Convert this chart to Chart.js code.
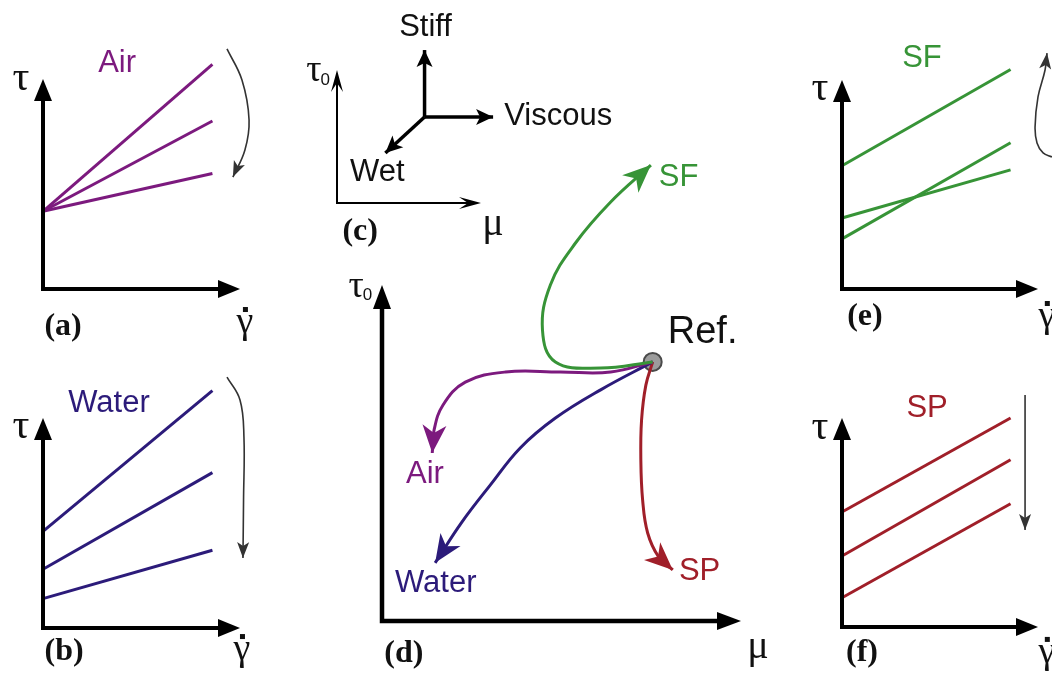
<!DOCTYPE html>
<html>
<head>
<meta charset="utf-8">
<script src="https://cdn.jsdelivr.net/npm/chart.js@4.4.1/dist/chart.umd.min.js"></script>
<style>
  body { margin: 0; background: #fff; }
  #fig { position: relative; width: 1052px; height: 683px; overflow: hidden; background: #fff; }
  #fig canvas { position: absolute; }
</style>
</head>
<body>
<div id="fig">
  <canvas id="pa"></canvas>
  <canvas id="pb"></canvas>
  <canvas id="pc"></canvas>
  <canvas id="pd"></canvas>
  <canvas id="pe"></canvas>
  <canvas id="pf"></canvas>
</div>
<script>
// nomes das series (aditivos)
const seriesNames = ['Air', 'Water', 'SF', 'SP'];
const seriesColors = ['#7c1a7e', '#2c1b7a', '#379437', '#a01f29'];

// curvas de fluxo tau x gamma (unidades do painel, eixo 0..10)
const gammaEnd = 8.6;
const airStart = [3.7, 3.7, 3.7];
const airEnd = [10.7, 8.0, 5.5];
const waterStart = [4.6, 2.8, 1.4];
const waterEnd = [11.3, 7.4, 3.7];
const sfStart = [5.9, 2.4, 3.4];
const sfEnd = [10.5, 7.0, 5.7];
const spStart = [5.5, 3.4, 1.4];
const spEnd = [10.0, 8.0, 5.9];

// setas finas de tendencia
const aTurnX = [9.34, 10.1, 10.46, 10.25, 9.64];
const aTurnY = [11.43, 9.95, 8.05, 6.62, 5.33];
const bTurnX = [9.34, 10.0, 10.2, 10.18, 10.15];
const bTurnY = [11.95, 10.86, 9.1, 6.1, 3.33];
const eTurnX = [10.71, 10.26, 9.95, 9.85, 10.0, 10.36, 10.46];
const eTurnY = [6.32, 6.51, 6.99, 7.75, 9.19, 10.48, 11.29];
const fTurnX = [9.34, 9.34];
const fTurnY = [11.1, 4.64];

// (c) eixos de referencia
const cCenter = [6.08, 6.47];
const cDirNames = ['Stiff', 'Viscous', 'Wet'];
const cTipX = [6.08, 10.84, 3.36];
const cTipY = [11.5, 6.47, 3.76];

// (d) tau0 x mu, caminhos a partir da referencia
const refPoint = { x: 7.54, y: 7.71 };
const sfPathX = [7.54, 6.09, 4.83, 4.47, 4.69, 5.39, 6.37, 7.49];
const sfPathY = [7.71, 7.53, 7.71, 8.66, 10.0, 11.25, 12.47, 13.57];
const airPathX = [7.54, 6.37, 4.97, 3.44, 2.32, 1.70, 1.45, 1.40];
const airPathY = [7.71, 7.41, 7.41, 7.41, 7.11, 6.43, 5.68, 5.00];
const waterPathX = [7.54, 6.09, 4.83, 3.85, 3.02, 2.23, 1.48];
const waterPathY = [7.71, 6.88, 6.04, 5.15, 4.05, 2.95, 1.73];
const spPathX = [7.54, 7.35, 7.23, 7.21, 7.26, 7.40, 7.71, 8.10];
const spPathY = [7.71, 7.02, 5.98, 4.79, 3.60, 2.62, 1.90, 1.52];

const SANS = '"Liberation Sans", Arial, sans-serif';
const SERIF = '"Liberation Serif", "Times New Roman", serif';

// desenha ponta de seta
function head(ctx, x, y, ang, h, color) {
  ctx.save();
  ctx.translate(x, y);
  ctx.rotate(ang);
  ctx.beginPath();
  ctx.moveTo(0, 0);
  ctx.lineTo(-h.len, h.w);
  ctx.lineTo(-h.len + h.notch, 0);
  ctx.lineTo(-h.len, -h.w);
  ctx.closePath();
  ctx.fillStyle = color;
  ctx.fill();
  ctx.restore();
}

const figPlugin = {
  id: 'fig',
  afterDatasetsDraw(chart) {
    const o = chart.options.plugins.fig;
    const ctx = chart.ctx;
    const a = chart.chartArea;
    const xs = chart.scales.x, ys = chart.scales.y;
    ctx.save();
    // eixos com seta
    const ax = o.axis;
    ctx.strokeStyle = '#000';
    ctx.lineWidth = ax.width;
    ctx.lineCap = 'butt';
    ctx.beginPath();
    ctx.moveTo(a.left, a.top + ax.head.len - ax.head.notch - 1);
    ctx.lineTo(a.left, a.bottom);
    ctx.lineTo(a.right - ax.head.len + ax.head.notch + 1, a.bottom);
    ctx.stroke();
    head(ctx, a.left, a.top, -Math.PI / 2, ax.head, '#000');
    head(ctx, a.right, a.bottom, 0, ax.head, '#000');
    // pontas das setas dos datasets
    chart.data.datasets.forEach((ds, i) => {
      if (!ds.arrow) return;
      const pts = chart.getDatasetMeta(i).data;
      const p = pts[pts.length - 1], q = pts[pts.length - 2];
      let bx = p.cp1x, by = p.cp1y;
      if (bx === undefined || Math.hypot(p.x - bx, p.y - by) < 1) { bx = q.x; by = q.y; }
      head(ctx, p.x, p.y, Math.atan2(p.y - by, p.x - bx), ds.arrow, ds.borderColor);
    });
    // textos
    ctx.textBaseline = 'middle';
    o.texts.forEach(t => {
      ctx.font = t.font;
      ctx.fillStyle = t.color || '#111';
      ctx.textAlign = t.align || 'center';
      const px = xs.getPixelForValue(t.x), py = ys.getPixelForValue(t.y);
      ctx.fillText(t.text, px, py);
      if (t.dot) {
        // ponto de derivada temporal sobre o gamma
        ctx.fillRect(px - 2, py - 16, 5, 5);
      }
      if (t.sub) {
        const w = ctx.measureText(t.text).width;
        ctx.font = t.subFont;
        ctx.textAlign = 'left';
        ctx.fillText(t.sub, px + (t.align === 'left' ? w : w / 2) - 1, py + 9);
      }
    });
    ctx.restore();
  }
};

function line(xArr, yArr, color, width, tension, arrow) {
  return {
    data: xArr.map((x, i) => ({ x: x, y: yArr[i] })),
    showLine: true,
    borderColor: color,
    backgroundColor: color,
    borderWidth: width,
    tension: tension,
    pointRadius: 0,
    clip: false,
    arrow: arrow
  };
}

function flowLines(start, end, color) {
  return start.map((s, i) => line([0, gammaEnd], [s, end[i]], color, 3, 0));
}

function makePanel(id, box, axes, datasets, texts, axisStyle) {
  const cv = document.getElementById(id);
  cv.width = box.w;
  cv.height = box.h;
  cv.style.left = box.x + 'px';
  cv.style.top = box.y + 'px';
  return new Chart(cv, {
    type: 'scatter',
    data: { datasets: datasets },
    options: {
      responsive: false,
      animation: false,
      layout: { padding: { left: axes.ox - box.x, right: box.x + box.w - axes.tx, top: axes.ty - box.y, bottom: box.y + box.h - axes.oy } },
      scales: {
        x: { type: 'linear', min: 0, max: 10, display: false },
        y: { type: 'linear', min: 0, max: 10, display: false }
      },
      plugins: { legend: { display: false }, tooltip: { enabled: false }, fig: { texts: texts, axis: axisStyle } }
    },
    plugins: [figPlugin]
  });
}

const bigAxis = { width: 4, head: { len: 22, w: 9, notch: 0 } };
const dAxis = { width: 4.5, head: { len: 24, w: 9, notch: 0 } };
const thinAxis = { width: 2, head: { len: 22, w: 6, notch: 9 } };
const thinHead = { len: 16, w: 6, notch: 4 };
const pathHead = { len: 28, w: 12, notch: 8 };
const cHead = { len: 17, w: 8, notch: 4 };

const fTau = '42px ' + SERIF;
const fGam = '38px ' + SERIF;
const fMu = '40px ' + SERIF;
const fTag = 'bold 32px ' + SERIF;
const fLab = '31px ' + SANS;
const fSub = '17px ' + SANS;

// (a) Air
makePanel('pa', { x: 0, y: 0, w: 280, h: 345 }, { ox: 43, oy: 289, tx: 240, ty: 79 },
  flowLines(airStart, airEnd, seriesColors[0]).concat([line(aTurnX, aTurnY, '#333', 1.6, 0.4, thinHead)]),
  [
    { text: 'τ', x: -1.12, y: 10.0, font: fTau },
    { text: 'γ', x: 10.25, y: -1.62, font: fGam, dot: true },
    { text: '(a)', x: 1.02, y: -1.81, font: fTag },
    { text: seriesNames[0], x: 3.76, y: 10.76, font: fLab, color: seriesColors[0] }
  ], bigAxis);

// (b) Water
makePanel('pb', { x: 0, y: 345, w: 280, h: 338 }, { ox: 43, oy: 628, tx: 240, ty: 418 },
  flowLines(waterStart, waterEnd, seriesColors[1]).concat([line(bTurnX, bTurnY, '#333', 1.6, 0.4, thinHead)]),
  [
    { text: 'τ', x: -1.12, y: 9.55, font: fTau },
    { text: 'γ', x: 10.1, y: -1.05, font: fGam, dot: true },
    { text: '(b)', x: 1.07, y: -1.14, font: fTag },
    { text: seriesNames[1], x: 3.35, y: 10.71, font: fLab, color: seriesColors[1] }
  ], bigAxis);

// (c) direcoes
makePanel('pc', { x: 290, y: 0, w: 345, h: 250 }, { ox: 337, oy: 203, tx: 481, ty: 70 },
  cTipX.map((tx, i) => line([cCenter[0], tx], [cCenter[1], cTipY[i]], '#000', 3.5, 0, cHead)),
  [
    { text: 'τ', x: -1.6, y: 9.9, font: '38px ' + SERIF, sub: '0', subFont: fSub },
    { text: 'μ', x: 10.84, y: -1.65, font: fMu },
    { text: '(c)', x: 1.61, y: -2.18, font: fTag },
    { text: cDirNames[0], x: 6.15, y: 13.23, font: fLab },
    { text: cDirNames[1], x: 11.61, y: 6.47, font: fLab, align: 'left' },
    { text: cDirNames[2], x: 0.91, y: 2.33, font: fLab, align: 'left' }
  ], thinAxis);

// (d) mapa tau0 x mu
const refSet = {
  data: [refPoint], pointRadius: 9, pointBackgroundColor: '#9c9c9c',
  pointBorderColor: '#4a4a4a', pointBorderWidth: 2, showLine: false, clip: false
};
makePanel('pd', { x: 330, y: 150, w: 460, h: 533 }, { ox: 382, oy: 621, tx: 741, ty: 285 },
  [
    line(sfPathX, sfPathY, seriesColors[2], 3, 0.4, pathHead),
    line(airPathX, airPathY, seriesColors[0], 3, 0.4, pathHead),
    line(waterPathX, waterPathY, seriesColors[1], 3, 0.4, pathHead),
    line(spPathX, spPathY, seriesColors[3], 3, 0.4, pathHead),
    refSet
  ],
  [
    { text: 'τ', x: -0.72, y: 9.95, font: '38px ' + SERIF, sub: '0', subFont: fSub },
    { text: 'μ', x: 10.47, y: -0.8, font: fMu },
    { text: '(d)', x: 0.61, y: -0.98, font: fTag },
    { text: 'Ref.', x: 7.96, y: 8.6, font: '38px ' + SANS, align: 'left' },
    { text: seriesNames[2], x: 7.71, y: 13.21, font: fLab, color: seriesColors[2], align: 'left' },
    { text: seriesNames[0], x: 0.67, y: 4.35, font: fLab, color: seriesColors[0], align: 'left' },
    { text: seriesNames[1], x: 0.36, y: 1.13, font: fLab, color: seriesColors[1], align: 'left' },
    { text: seriesNames[3], x: 8.27, y: 1.46, font: fLab, color: seriesColors[3], align: 'left' }
  ], dAxis);

// (e) SF
makePanel('pe', { x: 790, y: 0, w: 262, h: 345 }, { ox: 842, oy: 289, tx: 1038, ty: 80 },
  flowLines(sfStart, sfEnd, seriesColors[2]).concat([line(eTurnX, eTurnY, '#333', 1.6, 0.4, thinHead)]),
  [
    { text: 'τ', x: -1.12, y: 9.55, font: fTau },
    { text: 'γ', x: 10.45, y: -1.34, font: fGam, dot: true },
    { text: '(e)', x: 1.17, y: -1.34, font: fTag },
    { text: seriesNames[2], x: 4.08, y: 11.05, font: fLab, color: seriesColors[2] }
  ], bigAxis);

// (f) SP
makePanel('pf', { x: 790, y: 345, w: 262, h: 338 }, { ox: 842, oy: 627, tx: 1038, ty: 418 },
  flowLines(spStart, spEnd, seriesColors[3]).concat([line(fTurnX, fTurnY, '#333', 1.6, 0, thinHead)]),
  [
    { text: 'τ', x: -1.12, y: 9.5, font: fTau },
    { text: 'γ', x: 10.45, y: -1.24, font: fGam, dot: true },
    { text: '(f)', x: 1.02, y: -1.24, font: fTag },
    { text: seriesNames[3], x: 4.34, y: 10.48, font: fLab, color: seriesColors[3] }
  ], bigAxis);
</script>
</body>
</html>
